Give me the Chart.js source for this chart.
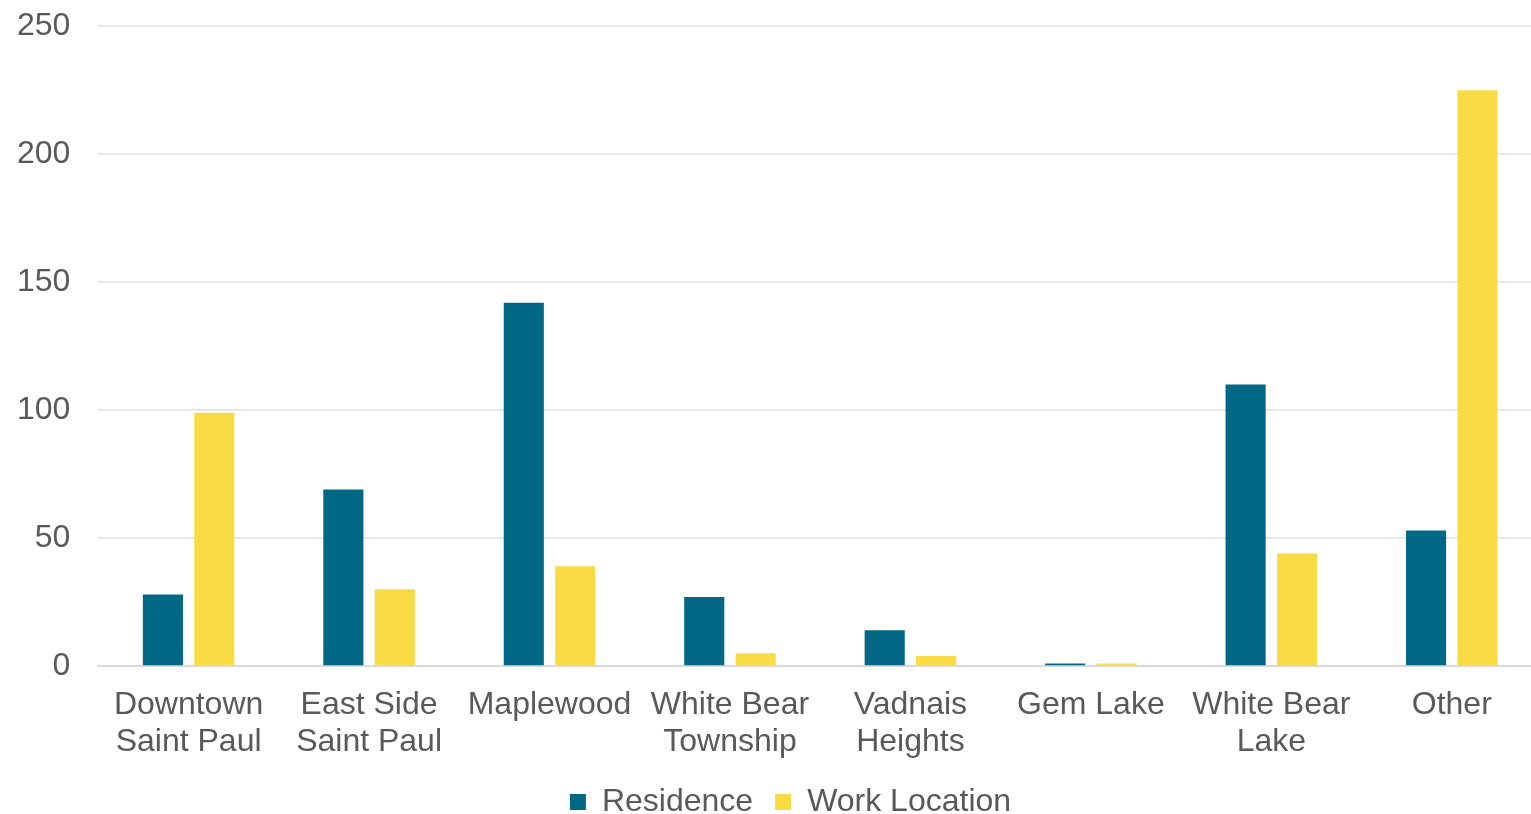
<!DOCTYPE html>
<html>
<head>
<meta charset="utf-8">
<script src="https://cdn.jsdelivr.net/npm/chart.js@4/dist/chart.umd.min.js"></script>
<style>
  html, body { margin: 0; padding: 0; background: #fff; overflow: hidden; }
  #wrap { width: 1542px; height: 835px; margin-top: -21px; }
</style>
</head>
<body>
<div id="wrap"><canvas id="chart"></canvas></div>
<script>
var categories = [
    ["Downtown", "Saint Paul"],
    ["East Side", "Saint Paul"],
    "Maplewood",
    ["White Bear", "Township"],
    ["Vadnais", "Heights"],
    "Gem Lake",
    ["White Bear", "Lake"],
    "Other"
];
var residence = [28, 69, 142, 27, 14, 1, 110, 53];
var workLocation = [99, 30, 39, 5, 4, 1, 44, 225];
var yTicks = [0, 50, 100, 150, 200, 250];

var textColor = "#595959";
var fontFamily = "'Liberation Sans', Arial, sans-serif";

// nudge the legend right and up a little, like the original
var legendShift = {
    id: "legendShift",
    afterLayout: function (chart) {
        chart.legend.left += 25;
        chart.legend.right += 25;
        chart.legend.top -= 4;
        chart.legend.bottom -= 4;
    }
};

new Chart(document.getElementById("chart"), {
    type: "bar",
    plugins: [legendShift],
    data: {
        labels: categories,
        datasets: [
            {
                label: "Residence",
                data: residence,
                backgroundColor: "#006884",
                barPercentage: 0.78,
                categoryPercentage: 0.57
            },
            {
                label: "Work Location",
                data: workLocation,
                backgroundColor: "#f9dc44",
                barPercentage: 0.78,
                categoryPercentage: 0.57
            }
        ]
    },
    options: {
        responsive: true,
        maintainAspectRatio: false,
        animation: false,
        layout: { padding: { top: 0, left: -11, right: 0, bottom: -18 } },
        plugins: {
            tooltip: { enabled: false },
            legend: {
                position: "bottom",
                labels: {
                    color: textColor,
                    font: { family: fontFamily, size: 32 },
                    boxWidth: 16,
                    boxHeight: 16,
                    padding: 22
                }
            }
        },
        scales: {
            x: {
                grid: { display: false, drawTicks: false },
                border: { color: "#d9d9d9", width: 2 },
                ticks: {
                    color: textColor,
                    font: { family: fontFamily, size: 32, lineHeight: 1.17 },
                    padding: 20,
                    maxRotation: 0,
                    autoSkip: false
                },
                afterFit: function (axis) {
                    // pull the legend up closer to the category labels
                    axis.height -= 13;
                }
            },
            y: {
                min: 0,
                max: 250,
                afterBuildTicks: function (axis) {
                    axis.ticks = yTicks.map(function (v) { return { value: v }; });
                },
                grid: { color: "#e0e0e0", lineWidth: 1.5, drawTicks: false },
                border: { display: false },
                ticks: {
                    color: textColor,
                    font: { family: fontFamily, size: 32 },
                    padding: 28
                }
            }
        }
    }
});
</script>
</body>
</html>
